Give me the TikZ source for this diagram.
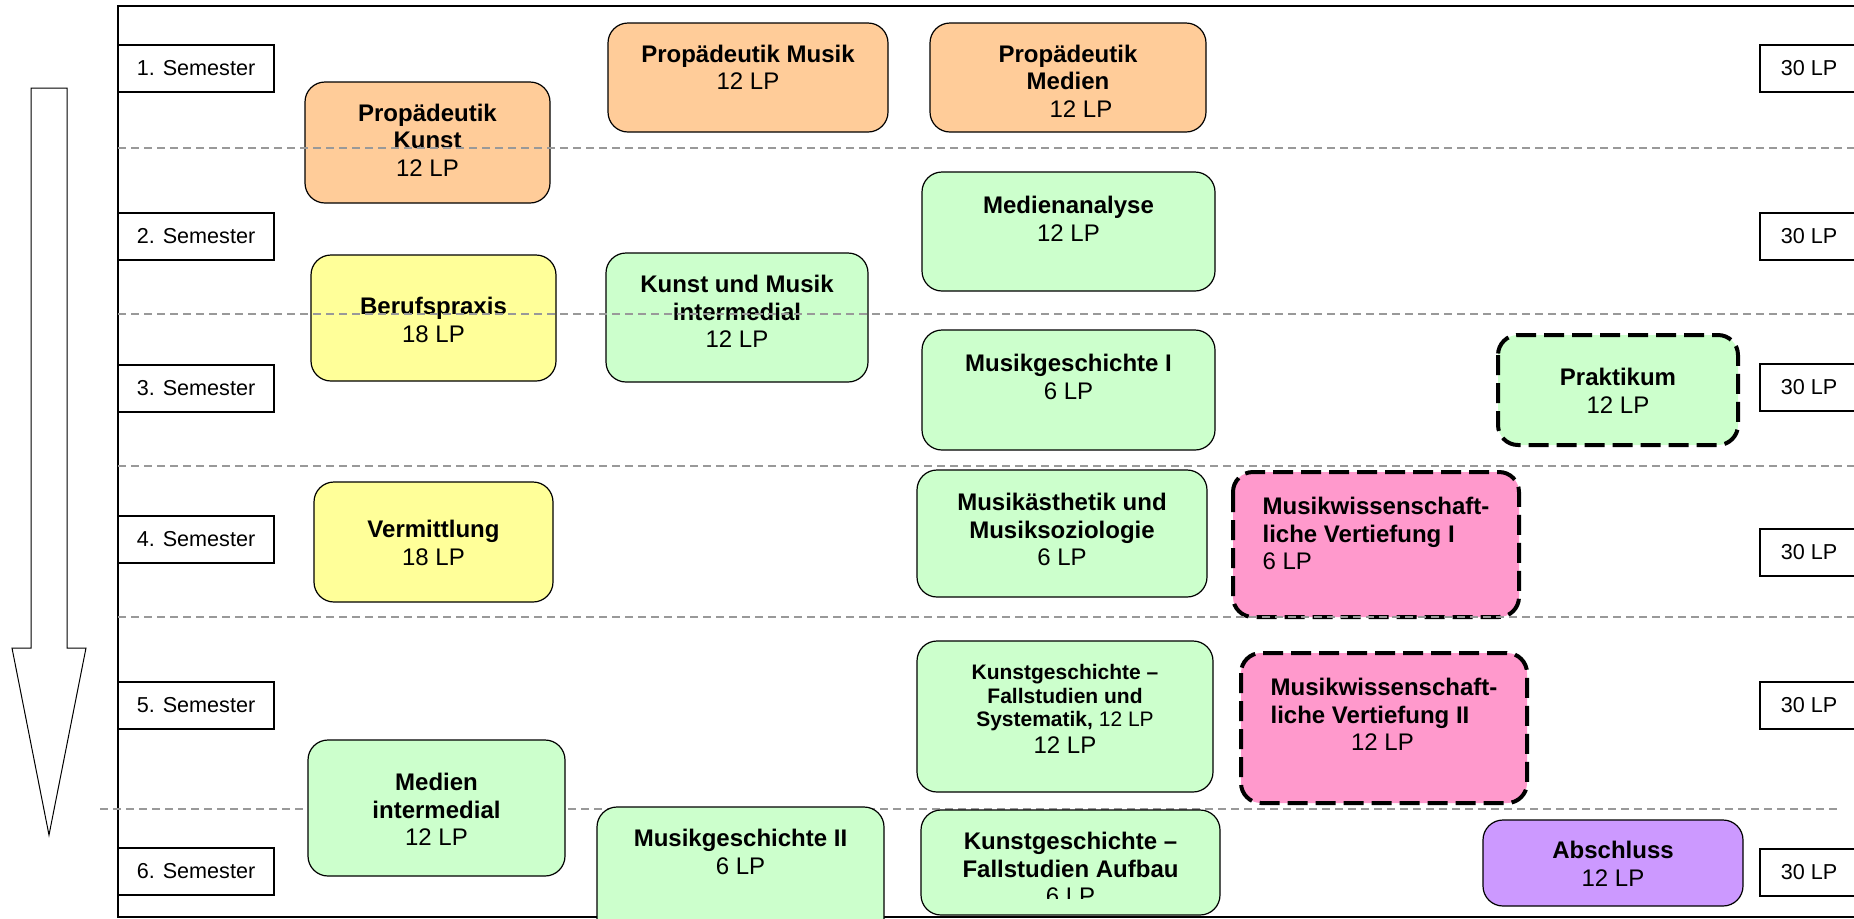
\documentclass[tikz,border=0pt]{standalone}
\usepackage{fontspec}
\setmainfont{Liberation Sans}
\definecolor{propaed}{HTML}{FFCC99}
\definecolor{pflicht}{HTML}{CCFFCC}
\definecolor{praxis}{HTML}{FFFF99}
\definecolor{vertief}{HTML}{FF99CC}
\definecolor{abschl}{HTML}{CC99FF}
\definecolor{trenner}{HTML}{999999}
\tikzset{
  modbox/.style={draw=black, line width=0.6pt, rounded corners=10pt},
  wahlbox/.style={draw=black, line width=2pt, dash pattern=on 10pt off 4pt, rounded corners=10pt},
  modtext/.style={anchor=north, inner sep=0pt, align=center, font=\fontsize{12}{13.75}\selectfont},
  sembox/.style={draw=black, line width=1pt, fill=white, minimum width=78pt, minimum height=23.5pt,
    inner sep=0pt, font=\fontsize{10.8}{13}\selectfont},
  lpbox/.style={sembox, anchor=west, minimum width=49pt},
  trennlinie/.style={draw=trenner, line width=1pt, dash pattern=on 4pt off 2.5pt}
}
\begin{document}
\begin{tikzpicture}[x=0.5pt, y=-0.5pt]
  \useasboundingbox (0,0) rectangle (1854,918);
  \clip (0,0) rectangle (1854,918);
  \draw[line width=1pt] (118,6) rectangle (1900,917);
  \draw[line width=0.5pt] (31,88) -- (31,648) -- (12,648) -- (49,835) -- (86,648) -- (67,648) -- (67,88) -- cycle;
  \draw[trennlinie] (100,809) -- (1840,809);
  \foreach \n/\y in {1/68.5,2/236.5,3/388,4/539.5,5/705.5,6/871.5} {
    \node[sembox] (sem\n) at (196,\y) {\n. Semester};
  }
  \foreach \n/\y in {1/68,2/236.5,3/387.5,4/552.5,5/705.5,6/872} {
    \node[lpbox] (lp\n) at (1759,\y) {30 LP};
  }

  \draw[modbox, fill=propaed] (305,82) rectangle (550,203);
  \node[modtext] (pkunst) at (427.5,103.5) {\textbf{Propädeutik}\\\textbf{Kunst}\\12 LP};
  \draw[modbox, fill=propaed] (608,23) rectangle (888,132);
  \node[modtext] (pmusik) at (748,44.5) {\textbf{Propädeutik Musik}\\12 LP};
  \draw[modbox, fill=propaed] (930,23) rectangle (1206,132);
  \node[modtext] (pmedien) at (1068,44.5) {\textbf{Propädeutik}\\\textbf{Medien}\\\hspace*{13pt}12 LP};

  \draw[modbox, fill=pflicht] (922,172) rectangle (1215,291);
  \node[modtext] (medana) at (1068.5,196) {\textbf{Medienanalyse}\\12 LP};
  \draw[modbox, fill=praxis] (311,255) rectangle (556,381);
  \node[modtext] (beruf) at (433.5,297) {\textbf{Berufspraxis}\\18 LP};
  \draw[modbox, fill=pflicht] (606,253) rectangle (868,382);
  \node[modtext] (kumu) at (737,275) {\textbf{Kunst und Musik}\\\textbf{intermedial}\\12 LP};

  \draw[modbox, fill=pflicht] (922,330) rectangle (1215,450);
  \node[modtext] (mgesch1) at (1068.5,354) {\textbf{Musikgeschichte I}\\6 LP};
  \draw[wahlbox, fill=pflicht] (1498,335) rectangle (1738,445);
  \node[modtext] (prakt) at (1618,368) {\textbf{Praktikum}\\12 LP};

  \draw[modbox, fill=praxis] (314,482) rectangle (553,602);
  \node[modtext] (verm) at (433.5,520) {\textbf{Vermittlung}\\18 LP};
  \draw[modbox, fill=pflicht] (917,470) rectangle (1207,597);
  \node[modtext] (maesth) at (1062,493) {\textbf{Musikästhetik und}\\\textbf{Musiksoziologie}\\6 LP};
  \draw[wahlbox, fill=vertief] (1233,472) rectangle (1519,617);
  \node[modtext, align=left] (mwv1) at (1376,497) {\textbf{Musikwissenschaft-}\\\textbf{liche Vertiefung I}\\6 LP};

  \draw[modbox, fill=pflicht] (917,641) rectangle (1213,792);
  \node[modtext, font=\fontsize{10.5}{11.75}\selectfont] (kgfs) at (1065,664)
    {\textbf{Kunstgeschichte –}\\\textbf{Fallstudien und}\\\textbf{Systematik,} 12 LP\\[1.75pt]{\fontsize{12}{13.75}\selectfont 12 LP}};
  \draw[wahlbox, fill=vertief] (1241,653) rectangle (1527,803);
  \node[modtext, align=left] (mwv2) at (1384,678) {\textbf{Musikwissenschaft-}\\\textbf{liche Vertiefung II}\\\hspace*{40.25pt}12 LP};

  \draw[modbox, fill=pflicht] (308,740) rectangle (565,876);
  \node[modtext] (medint) at (436.5,773) {\textbf{Medien}\\\textbf{intermedial}\\12 LP};
  \draw[modbox, fill=pflicht] (597,807) rectangle (884,940);
  \node[modtext] (mgesch2) at (740.5,829) {\textbf{Musikgeschichte II}\\6 LP};
  \draw[modbox, fill=pflicht] (921,810) rectangle (1220,915);
  \begin{scope}
    \clip (921,810) rectangle (1220,898);
    \node[modtext] (kgauf) at (1070.5,832) {\textbf{Kunstgeschichte –}\\\textbf{Fallstudien Aufbau}\\6 LP};
  \end{scope}
  \draw[modbox, fill=abschl] (1483,820) rectangle (1743,906);
  \node[modtext] (absch) at (1613,841) {\textbf{Abschluss}\\12 LP};

  \foreach \y in {148,314,466,617} {
    \draw[trennlinie] (118,\y) -- (1854,\y);
  }
\end{tikzpicture}
\end{document}
